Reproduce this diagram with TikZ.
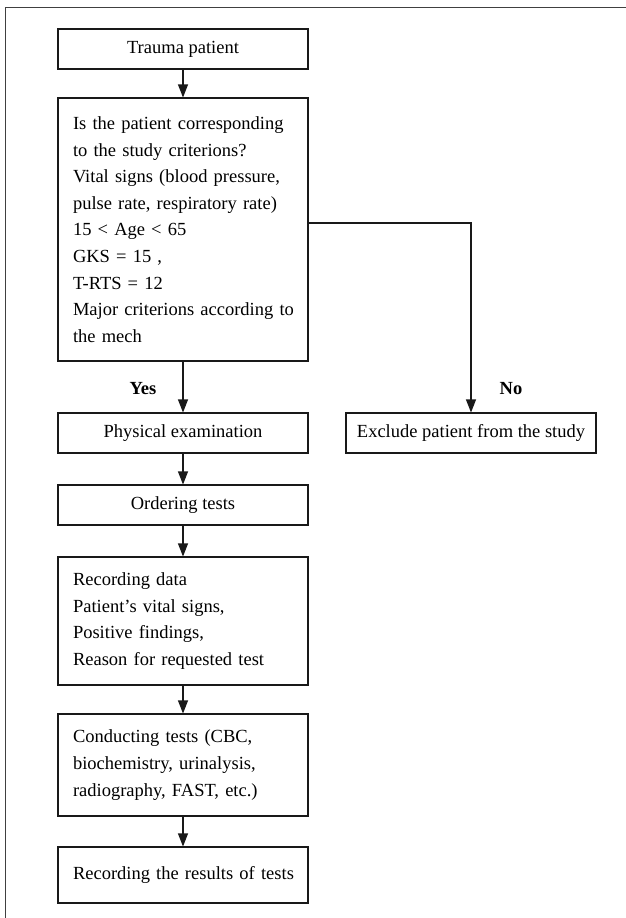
\documentclass[tikz,border=0pt]{standalone}
\usepackage{fontspec}
\setmainfont{Liberation Serif}
\usetikzlibrary{arrows.meta}
\begin{document}
\begin{tikzpicture}[x=1pt,y=-1pt,
  box/.style={draw=black!90, line width=1.1pt, minimum width=250pt, inner ysep=0pt,
    font=\fontsize{18.5}{26.6}\selectfont},
  onebox/.style={box, inner xsep=10pt, minimum height=40pt, align=center},
  multibox/.style={box, inner xsep=5pt, text width=240pt, align=left,
    execute at begin node={\leftskip=10pt}},
  arr/.style={draw=black!90, line width=1.1pt, -{Triangle[length=13pt,width=10pt]}},
  lab/.style={font=\fontsize{18.5}{22}\selectfont\bfseries}]
\useasboundingbox (0,0) rectangle (626,918);
\draw[black!75, line width=1pt] (5,918) -- (5,7) -- (626,7);

\node[onebox] (trauma) at (183,49) {Trauma patient};
\node[multibox, minimum height=263pt] (crit) at (183,229.5) {Is the patient corresponding\\to the study criterions?\\Vital signs (blood pressure,\\pulse rate, respiratory rate)\\15 {<} Age {<} 65\\GKS = 15 ,\\T-RTS = 12\\Major criterions according to\\the mech};
\node[onebox] (phys) at (183,433) {Physical examination};
\node[onebox] (excl) at (471,433) {Exclude patient from the study};
\node[onebox] (order) at (183,505) {Ordering tests};
\node[multibox, minimum height=128pt] (recdata) at (183,621) {Recording data\\Patient’s vital signs,\\Positive findings,\\Reason for requested test};
\node[multibox, minimum height=102pt] (conduct) at (183,765) {Conducting tests (CBC,\\biochemistry, urinalysis,\\radiography, FAST, etc.)};
\node[multibox, minimum height=56pt] (results) at (183,875) {Recording the results of tests};

\coordinate (nobend) at (471,223);
\node[lab] (yes) at (143,389) {Yes};
\node[lab] (no) at (511,389) {No};

\draw[arr] (trauma) -- (crit);
\draw[arr] (crit) -- (phys);
\draw[arr] (crit.east |- nobend) -- (nobend) -- (excl.north);
\draw[arr] (phys) -- (order);
\draw[arr] (order) -- (recdata);
\draw[arr] (recdata) -- (conduct);
\draw[arr] (conduct) -- (results);
\end{tikzpicture}
\end{document}
